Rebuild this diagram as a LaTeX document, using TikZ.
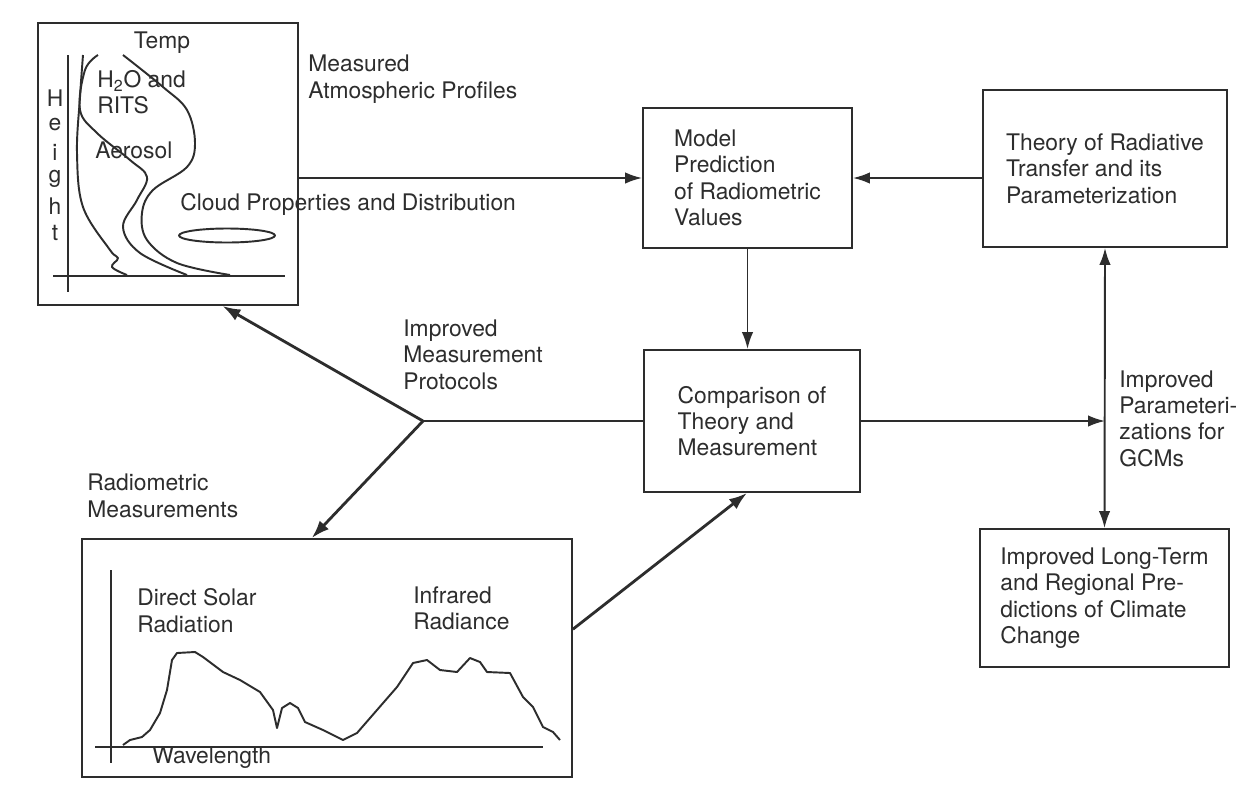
\documentclass[tikz,border=0pt]{standalone}
\usepackage{fontspec}
\setmainfont{TeX Gyre Heros}
\usepackage{xcolor}
\usepackage{tikz}
\usetikzlibrary{positioning,calc,arrows.meta}
\definecolor{ink}{RGB}{45,45,45}

\begin{document}
\begin{tikzpicture}[x=0.02cm,y=-0.02cm,
  every node/.style={text=ink,font=\fontsize{13}{15}\selectfont},
  box/.style={draw=ink,line width=1.1pt,align=left,inner sep=0pt},
  lbl/.style={anchor=west,align=left,inner sep=0pt},
  arr/.style={draw=ink,line width=1.1pt,-{Latex[length=3.4mm,width=2.3mm]}},
  thickarr/.style={draw=ink,line width=1.6pt,-{Latex[length=3.6mm,width=2.5mm]}},
  curve/.style={draw=ink,line width=1.1pt,line join=round}]
\useasboundingbox[fill=white] (0,0) rectangle (1250,785);

% boxes
\node[box,minimum width=5.2cm,minimum height=5.64cm] (prof) at (168,164) {};
\node[box,minimum width=4.18cm,minimum height=2.8cm] (model) at (747.5,178)
  {Model\\Prediction\\of Radiometric\\Values};
\node[box,minimum width=4.88cm,minimum height=3.14cm] (theory) at (1105,168.5)
  {Theory of Radiative\\Transfer and its\\Parameterization};
\node[box,minimum width=4.32cm,minimum height=2.84cm] (comp) at (752,421)
  {Comparison of\\Theory and\\Measurement};
\node[box,minimum width=4.98cm,minimum height=2.76cm] (longterm) at (1104.5,598)
  {Improved Long-Term\\and Regional Pre-\\dictions of Climate\\Change};
\node[box,minimum width=9.8cm,minimum height=4.76cm] (spec) at (327,658) {};

% atmospheric profiles
\draw[ink,line width=0.9pt] (68,55) -- (68,292);
\draw[ink,line width=0.9pt] (53,276) -- (285,276);
\foreach \c [count=\i] in {H,e,i,g,h,t}
  \node[inner sep=0pt] (ht\i) at (55,71+27*\i) {\c};
\node[inner sep=0pt] (temp) at (162,43) {Temp};
\node[lbl] (water) at (97,92) {H\textsubscript{2}O and\\RITS};
\node[lbl] (aero) at (95,150) {Aerosol};
\node[lbl] (cloud) at (180,204) {Cloud Properties and Distribution};
\draw[curve] (227,235.5) ellipse (48 and 7);
\draw[curve] plot[smooth,tension=0.6] coordinates {(83,55) (80,97) (77,153) (83,207) (110,250) (118,258) (112,267) (127,275)};
\draw[curve] plot[smooth,tension=0.6] coordinates {(98,55) (85,70) (80,110) (97,133) (130,160) (147,177) (137,200) (123,227) (140,253) (187,275)};
\draw[curve] plot[smooth,tension=0.6] coordinates {(123,55) (163,87) (187,110) (195,143) (187,167) (153,190) (142,213) (147,240) (177,263) (230,275)};

% radiometric spectrum
\draw[ink,line width=0.9pt] (111,570) -- (111,763);
\draw[ink,line width=0.9pt] (95,747) -- (543,747);
\node[lbl] (solar) at (137,610.5) {Direct Solar\\Radiation};
\node[lbl] (infra) at (413,608) {Infrared\\Radiance};
\node[lbl] (wave) at (152,758) {Wavelength};
\draw[curve] plot coordinates {(123,745) (130,740) (142,737) (150,730) (160,713) (167,690) (172,660) (177,653) (195,652) (203,657) (223,672) (240,680) (260,692) (273,710) (277,728) (282,708) (290,703) (298,708) (305,722) (323,730) (343,740) (357,733) (377,710) (397,687) (413,663) (427,660) (440,670) (457,672) (470,658) (480,662) (487,672) (510,673) (523,697) (533,707) (543,727) (553,732) (560,740)};

% labels
\node[lbl] (measured) at (308,79) {Measured\\Atmospheric Profiles};
\node[lbl] (protocols) at (403,354.5) {Improved\\Measurement\\Protocols};
\node[lbl] (radiom) at (87,496) {Radiometric\\Measurements};
\node[lbl] (gcm) at (1119,418.5) {Improved\\Parameteri-\\zations for\\GCMs};

% connectors
\coordinate (jn) at (423,421);
\draw[arr] (model.west -| prof.east) -- (model.west);
\draw[arr] (theory.west |- model.east) -- (model.east);
\draw[arr] (model.south) -- (model.south |- comp.north);
\draw[ink,line width=1.1pt] (comp.west) -- (jn);
\draw[thickarr] (jn) -- ($(prof.south west)!0.708!(prof.south east)$);
\draw[thickarr] (jn) -- ($(spec.north west)!0.469!(spec.north east)$);
\draw[thickarr] ($(spec.north east)!0.38!(spec.south east)$) -- ($(comp.south west)!0.477!(comp.south east)$);
\draw[arr] (comp.east) -- (comp.east -| theory.south);
\draw[arr,{Latex[length=3.4mm,width=2.3mm]}-{Latex[length=3.4mm,width=2.3mm]}] (longterm.north) -- (theory.south);
\end{tikzpicture}
\end{document}
